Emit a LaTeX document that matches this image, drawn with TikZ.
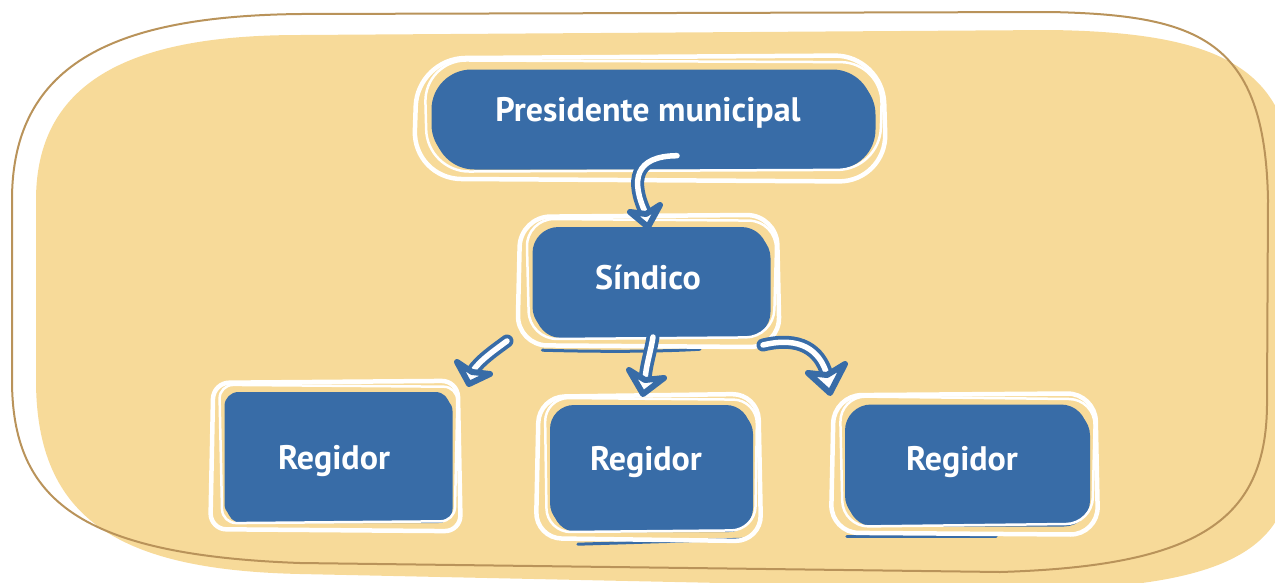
\documentclass[tikz,border=0pt]{standalone}
\usepackage{fontspec}
\setmainfont{PT Sans}
\usetikzlibrary{calc,shadows}
\definecolor{bl}{HTML}{386CA7}
\definecolor{yl}{HTML}{F7DA99}
\definecolor{ol}{HTML}{B9935A}
\tikzset{
 box/.style={fill=bl, text=white, font=\bfseries\fontsize{34}{38}\selectfont, inner sep=0pt,
   general shadow={fill=bl, shadow xshift=3pt, shadow yshift=-5pt}},
 arrbody/.style={draw=bl, line width=13pt, line cap=round},
 arrcore/.style={draw=white, line width=5.5pt, line cap=round},
 arrtip/.style={fill=white, draw=bl, line width=6pt, line join=round},
 wline/.style={draw=white, line width=#1},
 bshad/.style={draw=bl, line width=3pt, line cap=round},
}
% text placed with baseline at node centre: #1 = twice the x shift, #2 = raise, #3 = text
\newcommand\tx[3]{\smash{\raisebox{#2}{\makebox[0pt]{\kern#1 #3}}}}
% #1 node, #2 inflate, #3 jitter a, #4 jitter b, #5 radius, #6 line width
\newcommand\loopy[6]{%
 \draw[wline=#6, rounded corners=#5]
  ($(#1.north west)+(-#2,-#2+#3)$) -- ($(#1.north east)+(#2+#4,-#2)$) --
  ($(#1.south east)+(#2,#2+#3)$) -- ($(#1.south west)+(-#2+#4,#2)$) -- cycle;}
\begin{document}
\begin{tikzpicture}[x=1pt,y=-1pt]
\useasboundingbox (0,0) rectangle (1275,582);
% background
\fill[yl] (36,200) .. controls (36,70) and (150,35) .. (300,35) -- (1050,30)
  .. controls (1200,32) and (1275,60) .. (1290,150) -- (1290,480)
  .. controls (1280,560) and (1200,585) .. (1050,590) -- (300,574)
  .. controls (120,570) and (36,520) .. (36,380) -- cycle;
\draw[ol, line width=2pt] (12,200) .. controls (12,60) and (120,16) .. (300,14) -- (1050,12)
  .. controls (1200,15) and (1265,40) .. (1268,200) -- (1267,400)
  .. controls (1268,520) and (1200,566) .. (1000,572) -- (300,563)
  .. controls (80,555) and (12,500) .. (12,380) -- cycle;
% boxes
\node[box, minimum width=441pt, minimum height=95pt, rounded corners=40pt] (pres) at (652,117) {\tx{-8pt}{-4pt}{Presidente municipal}};
\node[box, minimum width=235pt, minimum height=106pt, rounded corners=26pt] (sind) at (650,280) {\tx{-4pt}{-9pt}{Síndico}};
\node[box, minimum width=225pt, minimum height=126pt, rounded corners=14pt] (reg1) at (337,455) {\tx{-6pt}{-14pt}{Regidor}};
\node[box, minimum width=200pt, minimum height=122pt, rounded corners=24pt] (reg2) at (650,466) {\tx{-8pt}{-4pt}{Regidor}};
\node[box, minimum width=242pt, minimum height=117pt, rounded corners=26pt] (reg3) at (966,463) {\tx{-8pt}{-7pt}{Regidor}};
% blue slivers peeking below the outlines
\draw[bshad] ($(sind.south west)+(10,17)$) .. controls ($(sind.south)+(-40,19)$) and ($(sind.south)+(20,18)$) .. ($(sind.south)+(50,16)$);
\draw[bshad] ($(reg2.south west)+(28,17)$) -- ($(reg2.south east)+(-8,12)$);
\draw[bshad] ($(reg3.south west)+(2,15)$) -- ($(reg3.south)+(30,15)$);
% sketchy white outlines
\loopy{pres}{14}{3}{-4}{48pt}{4.5pt}
\loopy{pres}{7}{-2}{3}{42pt}{2.5pt}
\loopy{sind}{12}{2}{-3}{30pt}{4.5pt}
\loopy{sind}{6}{-2}{3}{28pt}{2.5pt}
\loopy{reg1}{11}{2}{-3}{16pt}{4.5pt}
\loopy{reg1}{5}{-2}{3}{14pt}{2.5pt}
\loopy{reg2}{11}{3}{-3}{26pt}{4.5pt}
\loopy{reg2}{5}{-2}{2}{24pt}{2.5pt}
\loopy{reg3}{11}{2}{-3}{28pt}{4.5pt}
\loopy{reg3}{5}{-3}{3}{26pt}{2.5pt}
% arrow coordinates
\coordinate (a1s) at ($(pres.south)+(25,-9)$);
\coordinate (a1t) at (648,227);
\coordinate (a1w) at (630,212);
\coordinate (a1v) at (660,205);
\coordinate (a1n) at (646,214);
\coordinate (a2s) at (507,341);
\coordinate (a2t) at (469,384);
\coordinate (a2w) at (457,362);
\coordinate (a2v) at (490,374);
\coordinate (a2n) at (472,372);
\coordinate (a3s) at (653,337);
\coordinate (a3t) at (643,394);
\coordinate (a3w) at (629,370);
\coordinate (a3v) at (664,378);
\coordinate (a3n) at (645,380);
\coordinate (a4s) at (763,345);
\coordinate (a4t) at (830,393);
\coordinate (a4w) at (808,373);
\coordinate (a4v) at (845,364);
\coordinate (a4n) at (827,375);
% arrows
\foreach \s in {arrbody,arrcore}{
 \draw[\s] (a1s) .. controls (635,156) and (630,180) .. (a1n);
 \draw[\s] (a2s) .. controls (495,350) and (480,360) .. (a2n);
 \draw[\s] (a3s) .. controls (650,355) and (646,365) .. (a3n);
 \draw[\s] (a4s) .. controls (800,336) and (820,350) .. (a4n);
}
\draw[arrtip] (a1w) -- (a1t) -- (a1v) -- (a1n) -- cycle;
\draw[arrtip] (a2w) -- (a2t) -- (a2v) -- (a2n) -- cycle;
\draw[arrtip] (a3w) -- (a3t) -- (a3v) -- (a3n) -- cycle;
\draw[arrtip] (a4w) -- (a4t) -- (a4v) -- (a4n) -- cycle;
\end{tikzpicture}
\end{document}
